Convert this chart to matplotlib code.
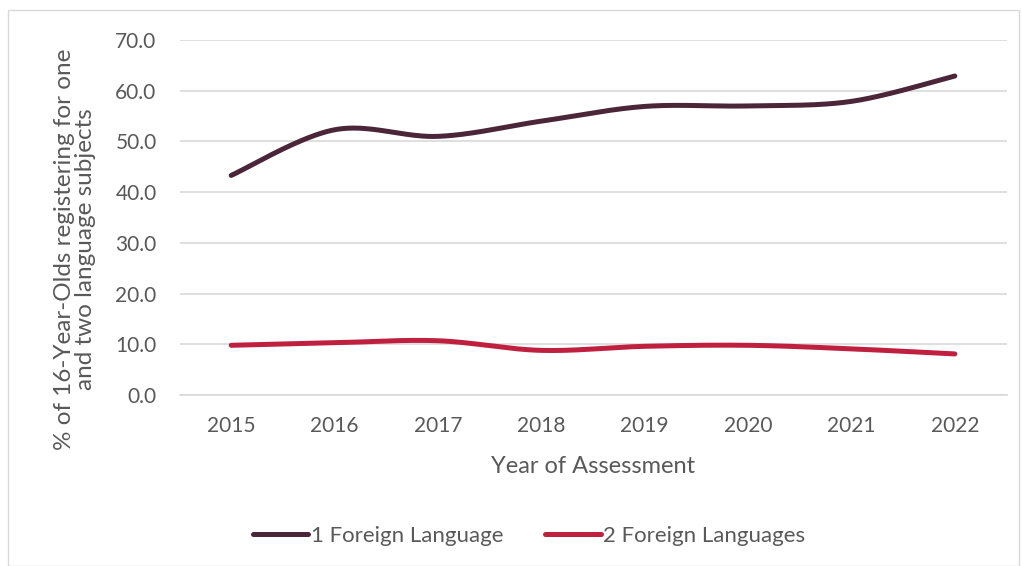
import numpy as np
import matplotlib
matplotlib.use("Agg")
import matplotlib.pyplot as plt
from matplotlib.patches import Rectangle

years = ["2015", "2016", "2017", "2018", "2019", "2020", "2021", "2022"]
one_lang = [43.3, 52.3, 51.0, 54.0, 56.9, 57.0, 57.9, 62.9]
two_lang = [9.8, 10.3, 10.7, 8.8, 9.6, 9.8, 9.1, 8.1]
series_names = ["1 Foreign Language", "2 Foreign Languages"]
colors = ["#4B2638", "#C0203F"]

plt.rcParams['font.family'] = ['Lato', 'DejaVu Sans']

def smooth(x, y, n=40):
    # Excel-style smoothing: cubic Bezier segments with Catmull-Rom control points
    x = np.asarray(x, float); y = np.asarray(y, float)
    px = np.concatenate([[x[0]], x, [x[-1]]])
    py = np.concatenate([[y[0]], y, [y[-1]]])
    xs, ys = [], []
    t = np.linspace(0, 1, n)
    for i in range(1, len(px) - 2):
        p0 = np.array([px[i], py[i]]); p3 = np.array([px[i + 1], py[i + 1]])
        c1 = p0 + (np.array([px[i + 1], py[i + 1]]) - np.array([px[i - 1], py[i - 1]])) / 6
        c2 = p3 - (np.array([px[i + 2], py[i + 2]]) - np.array([px[i], py[i]])) / 6
        b = ((1 - t) ** 3)[:, None] * p0 + (3 * (1 - t) ** 2 * t)[:, None] * c1 \
            + (3 * (1 - t) * t ** 2)[:, None] * c2 + (t ** 3)[:, None] * p3
        xs.append(b[:, 0]); ys.append(b[:, 1])
    return np.concatenate(xs), np.concatenate(ys)

W, H = 1022, 566
fig = plt.figure(figsize=(W / 100, H / 100), dpi=100)
ax = fig.add_axes([179.5 / W, 1 - 395 / H, (1006.5 - 179.5) / W, (395 - 40) / H])

xpos = np.arange(len(years))
for vals, name, c in zip([one_lang, two_lang], series_names, colors):
    sx, sy = smooth(xpos, vals)
    ax.plot(sx, sy, color=c, lw=3.6, solid_capstyle='round', label=name)

ax.set_xlim(-0.5, len(years) - 0.5)
ax.set_ylim(0, 70)
ax.set_yticks(np.arange(0, 71, 10))
ax.set_yticklabels([f"{v:.1f}" for v in np.arange(0, 71, 10)])
ax.set_xticks(xpos)
ax.set_xticklabels(years)
ax.grid(axis='y', color='#D9D9D9', lw=1.2)
ax.set_axisbelow(True)
for s in ['top', 'right', 'left']:
    ax.spines[s].set_visible(False)
ax.spines['bottom'].set_color('#D9D9D9')
ax.spines['bottom'].set_linewidth(1.2)
ax.tick_params(axis='both', length=0, labelsize=15, labelcolor='#595959')
ax.tick_params(axis='y', pad=16.5)
ax.tick_params(axis='x', pad=15)

fig.text(593 / W, 1 - 473 / H, "Year of Assessment", fontsize=17, color='#595959',
         ha='center', va='baseline')
fig.text(75 / W, 1 - 249 / H, "% of 16-Year-Olds registering for one\nand two language subjects",
         fontsize=17.5, color='#595959', rotation=90, ha='center', va='center',
         multialignment='center', linespacing=1.05)

leg = fig.legend(loc='center', bbox_to_anchor=(529 / W, 1 - 536 / H), ncol=2,
                 frameon=False, fontsize=16, handlelength=2.5, handletextpad=0.1,
                 columnspacing=1.9)
for t in leg.get_texts():
    t.set_color('#595959')

fig.patches.append(Rectangle((8 / W, 0), (1019 - 8) / W, 1 - 10 / H,
                             transform=fig.transFigure, fill=False,
                             edgecolor='#D9D9D9', lw=1.0))
fig.savefig("out.png", dpi=100, facecolor='white')
